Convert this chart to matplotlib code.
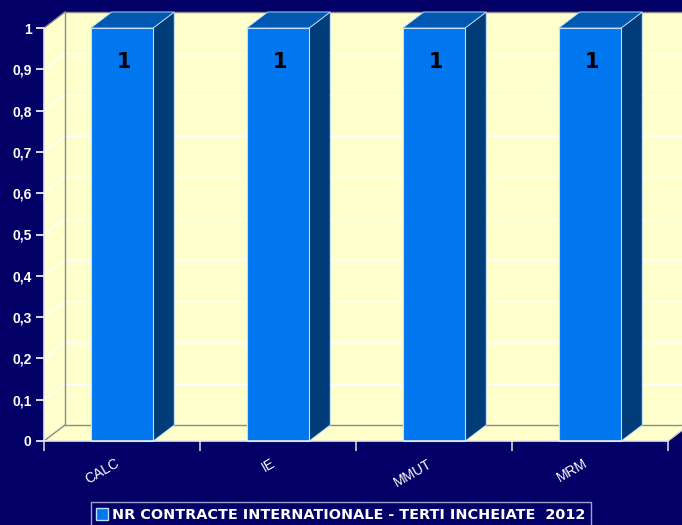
import matplotlib
matplotlib.use("Agg")
import matplotlib.pyplot as plt
from matplotlib.patches import Polygon
from matplotlib.lines import Line2D
import numpy as np

categories = ["CALC", "IE", "MMUT", "MRM"]
values = [1, 1, 1, 1]
yticks = [0, 0.1, 0.2, 0.3, 0.4, 0.5, 0.6, 0.7, 0.8, 0.9, 1]
ytick_labels = ["0", "0,1", "0,2", "0,3", "0,4", "0,5", "0,6", "0,7", "0,8", "0,9", "1"]
series_name = "NR CONTRACTE INTERNATIONALE - TERTI INCHEIATE  2012"

NAVY = "#020066"
WALL = "#FFFFCC"
FRONT = "#0077EE"
SIDE = "#003C78"
TOP = "#0058B0"

W, H = 682, 525
fig = plt.figure(figsize=(W / 100, H / 100), dpi=100, facecolor=NAVY)
ax = fig.add_axes([44 / W, (H - 441) / H, 624 / W, 413 / H])
ax.set_xlim(-0.5, len(categories) - 0.5)
ax.set_ylim(0, 1)
ax.patch.set_visible(False)
for s in ax.spines.values():
    s.set_visible(False)

# depth offsets in data units (21 px right, 16 px up)
DX = 21 / (624 / len(categories))
DY = 16 / 413
x0, x1 = -0.5, len(categories) - 0.5

def poly(pts, fc, ec="none", lw=0, z=1):
    p = Polygon(pts, closed=True, facecolor=fc, edgecolor=ec, linewidth=lw, zorder=z, clip_on=False)
    ax.add_patch(p)

def line(xs, ys, c, lw=1, z=2):
    ax.add_line(Line2D(xs, ys, color=c, lw=lw, zorder=z, clip_on=False))

# back wall
poly([(x0 + DX, DY), (x1 + DX + 1, DY), (x1 + DX + 1, 1 + DY), (x0 + DX, 1 + DY)], WALL, z=0.5)
# floor
poly([(x0, 0), (x1, 0), (x1 + DX, DY), (x0 + DX, DY)], WALL, z=0.6)
# side wall
poly([(x0, 0), (x0 + DX, DY), (x0 + DX, 1 + DY), (x0, 1)], WALL, z=0.6)

# grid lines
for v in yticks[1:-1]:
    line([x0, x0 + DX], [v, v + DY], "white", 1, 0.8)
    line([x0 + DX, x1 + DX + 1], [v + DY, v + DY], "white", 1, 0.8)

# wall edges
line([x0 + DX, x0 + DX], [DY, 1 + DY], "#8C8C8C", 1, 0.9)
line([x0 + DX, x1 + DX + 1], [DY, DY], "#8C8C8C", 1, 0.9)
line([x0 + DX, x1 + DX + 1], [1 + DY, 1 + DY], "#8C8C8C", 1, 0.9)
line([x0, x0 + DX], [1, 1 + DY], "#8C8C8C", 1, 0.9)
line([x0, x0 + DX], [0, DY], "#8C8C8C", 1, 0.9)
line([x1, x1 + DX], [0, DY], "#D0D0D0", 1, 0.9)
line([x0, x1], [0, 0], "#E8E8E8", 1.2, 3)
line([x0, x0], [0, 1], "#E8E8E8", 1.2, 3)

# bars
bw = 0.4
xs = np.arange(len(categories))
bars = ax.bar(xs, values, width=bw, color=FRONT, edgecolor="#BFDDFF", linewidth=0.8, zorder=2, clip_on=False)
for b in bars:
    l, r, t = b.get_x(), b.get_x() + b.get_width(), b.get_height()
    poly([(r, 0), (r + DX, DY), (r + DX, t + DY), (r, t)], SIDE, "#BFDDFF", 0.6, 1.9)
    poly([(l, t), (l + DX, t + DY), (r + DX, t + DY), (r, t)], TOP, "#BFDDFF", 0.6, 1.9)
    ax.text(b.get_x() + b.get_width() / 2 + 0.015, t - 0.083, f"{t:g}", ha="center", va="center",
            fontsize=15, fontweight="bold", color="black", family="DejaVu Sans", zorder=4)

# y axis
ax.set_yticks(yticks)
ax.set_yticklabels(ytick_labels)
ax.tick_params(axis="y", colors="white", length=6, width=1.2, pad=3, labelsize=10)
for t in ax.get_yticklabels():
    t.set_fontweight("bold")
    t.set_family("Liberation Sans")

# x axis: ticks at boundaries, labels at centres
ax.set_xticks(np.arange(len(categories) + 1) - 0.5)
ax.set_xticklabels([])
ax.tick_params(axis="x", which="major", colors="#D0D0D0", length=7, width=1.2)
ax.set_xticks(xs, minor=True)
ax.set_xticklabels(categories, minor=True, rotation=30, ha="right", va="top",
                   color="white", fontsize=10, family="Liberation Sans")
ax.tick_params(axis="x", which="minor", length=0, pad=11)

# legend
handle = Line2D([], [], marker="s", linestyle="none", markersize=8,
                markerfacecolor=FRONT, markeredgecolor="#BFDDFF", markeredgewidth=1)
leg = fig.legend([handle], [series_name], loc="lower left",
                 bbox_to_anchor=(91 / W, -3 / H), frameon=True, fancybox=False,
                 facecolor=NAVY, edgecolor="#C8C8E8", handlelength=0.7, handletextpad=0.35,
                 borderpad=0.4, borderaxespad=0,
                 prop={"family": "DejaVu Sans", "weight": "bold", "size": 10.4})
for t in leg.get_texts():
    t.set_color("white")
leg.get_frame().set_linewidth(1)

fig.savefig("out.png", dpi=100, facecolor=NAVY)
